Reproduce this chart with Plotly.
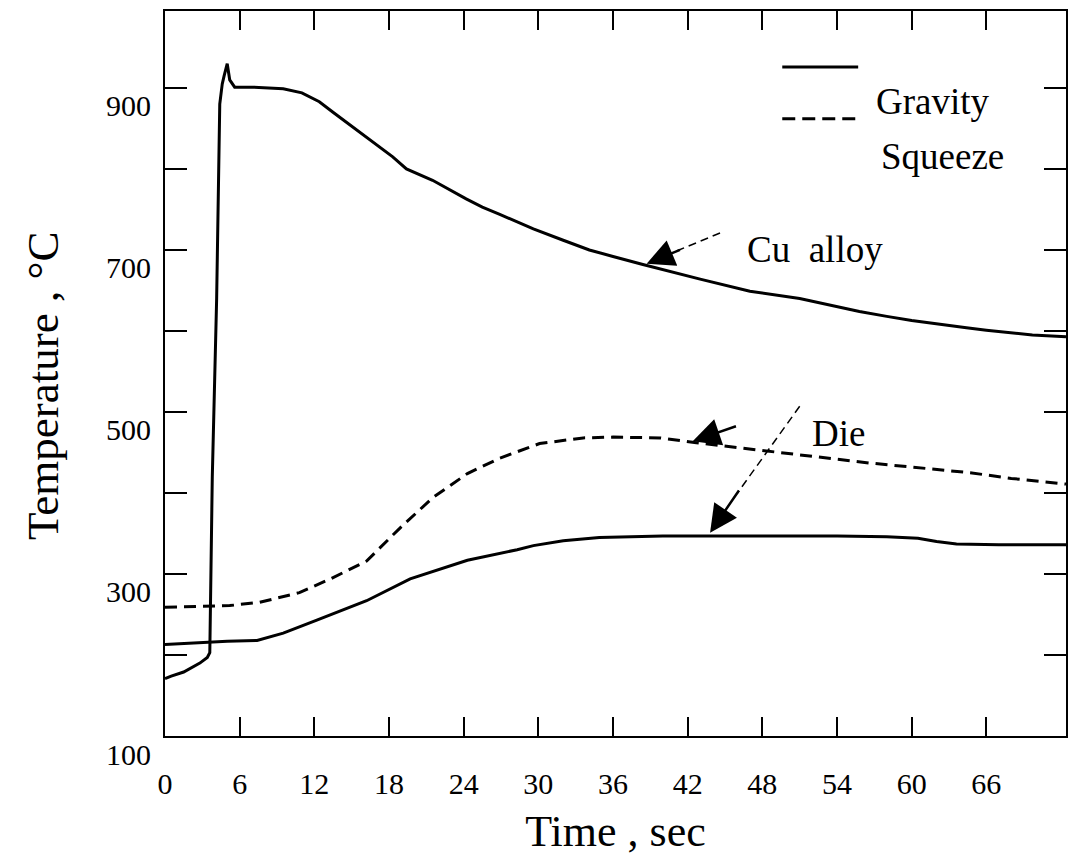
import plotly.graph_objects as go

# ---- data ----
cu_t = [0, 0.5, 1.5, 2.8, 3.4, 3.6, 3.8, 4.15, 4.4, 4.6, 4.75, 5.0, 5.2, 5.6, 7, 9.5, 11, 12.4,
        13.5, 14.9, 17.0, 18.3, 19.4, 21.5, 24.2, 25.5, 26.9, 29.6, 32, 34.1, 36, 38.4,
        43, 47, 51, 55.8, 58, 60, 64.4, 66, 69.7, 72.4]
cu_T = [171, 174, 179, 190, 197, 203, 420, 640, 880, 905, 915, 930, 910, 901, 901, 899, 894, 883,
        870, 854, 830, 815, 800, 786, 763, 753, 744, 726, 712, 700, 692, 682,
        664, 649, 640, 624, 618, 613, 604, 601, 595, 593]

sq_die_t = [0, 3, 5.2, 7.6, 10.8, 13.3, 16.2, 18.9, 21.5, 24.3, 26.9, 30.1, 33.6, 36, 39.8,
            42.7, 48.6, 52, 56.6, 60, 64.7, 68, 72.4]
sq_die_T = [259, 260, 261, 265, 277, 294, 316, 357, 394, 424, 443, 461, 468, 469, 468,
            462, 451, 445, 437, 432, 425, 418, 411]

gr_die_t = [0, 3.6, 5, 7.4, 9.5, 12.2, 16.2, 19.7, 24.3, 28.3, 29.6, 32, 34.9, 40, 48.6, 54,
            58, 60.5, 62, 63.6, 67, 72.4]
gr_die_T = [213, 216, 217, 218, 227, 243, 267, 294, 317, 330, 335, 341, 345, 347, 347, 347,
            346, 344, 340, 337, 336, 336]

x_ticks = [0, 6, 12, 18, 24, 30, 36, 42, 48, 54, 60, 66]
y_ticks = [100, 200, 300, 400, 500, 600, 700, 800, 900]
y_ticktext = ["100", "", "300", "", "500", "", "700", "", "900"]

FONT = "Liberation Serif"

fig = go.Figure()
fig.add_trace(go.Scatter(x=cu_t, y=cu_T, mode="lines", name="Cu alloy (Gravity)",
                         line=dict(color="black", width=3)))
fig.add_trace(go.Scatter(x=sq_die_t, y=sq_die_T, mode="lines", name="Die (Squeeze)",
                         line=dict(color="black", width=3, dash="12px,7px")))
fig.add_trace(go.Scatter(x=gr_die_t, y=gr_die_T, mode="lines", name="Die (Gravity)",
                         line=dict(color="black", width=3)))

# legend-like key drawn inside the plot
fig.add_shape(type="line", xref="x", yref="y", x0=49.6, x1=55.7, y0=926, y1=926,
              line=dict(color="black", width=3))
fig.add_shape(type="line", xref="x", yref="y", x0=49.6, x1=55.7, y0=862, y1=862,
              line=dict(color="black", width=3, dash="13px,7px"))
fig.add_annotation(x=61.7, y=883, xref="x", yref="y", text="Gravity", showarrow=False,
                   font=dict(family=FONT, size=37, color="black"))
fig.add_annotation(x=62.5, y=815, xref="x", yref="y", text="Squeeze", showarrow=False,
                   font=dict(family=FONT, size=37, color="black"))

# labels with arrows
fig.add_annotation(x=52.2, y=701, xref="x", yref="y", text="Cu  alloy", showarrow=False,
                   font=dict(family=FONT, size=37, color="black"))
fig.add_shape(type="line", xref="x", yref="y", x0=44.6, y0=721, x1=41.0, y1=698,
              line=dict(color="black", width=1.5, dash="8px,5px"))
fig.add_annotation(x=38.7, y=683, xref="x", yref="y", ax=41.5, ay=701, axref="x", ayref="y",
                   text="", showarrow=True, arrowhead=2, arrowsize=2.2, arrowwidth=2.5,
                   arrowcolor="black", standoff=0)

fig.add_annotation(x=54.1, y=473, xref="x", yref="y", text="Die", showarrow=False,
                   font=dict(family=FONT, size=37, color="black"))
fig.add_shape(type="line", xref="x", yref="y", x0=51.0, y0=507, x1=46.0, y1=400,
              line=dict(color="black", width=1.5, dash="8px,5px"))
fig.add_annotation(x=43.8, y=351, xref="x", yref="y", ax=46.2, ay=405, axref="x", ayref="y",
                   text="", showarrow=True, arrowhead=2, arrowsize=2.2, arrowwidth=2.5,
                   arrowcolor="black", standoff=0)
fig.add_annotation(x=42.4, y=464, xref="x", yref="y", ax=46.0, ay=483, axref="x", ayref="y",
                   text="", showarrow=True, arrowhead=2, arrowsize=2.2, arrowwidth=2.5,
                   arrowcolor="black", standoff=0)

# y-axis title placed as in the reference (slightly below the plot centre)
fig.add_annotation(xref="paper", x=0, xanchor="center", xshift=-122, yref="y", y=532,
                   text="Temperature , °C", textangle=-90, showarrow=False,
                   font=dict(family=FONT, size=45, color="black"))

axis_common = dict(showline=True, linecolor="black", linewidth=2, mirror="allticks",
                   ticks="inside", tickcolor="black", tickwidth=2, showgrid=False,
                   zeroline=False, tickfont=dict(family=FONT, size=30, color="black"))

fig.update_xaxes(range=[0, 72.4], tickvals=x_ticks, ticklen=19, ticklabelstandoff=20,
                 title=dict(text="Time , sec", font=dict(family=FONT, size=44, color="black"),
                            standoff=16),
                 **axis_common)
fig.update_yaxes(range=[100, 995], tickvals=y_ticks, ticktext=y_ticktext, ticklen=22,
                 ticklabelshift=18, ticklabelstandoff=6,
                 **axis_common)

fig.update_layout(width=1077, height=866, plot_bgcolor="white", paper_bgcolor="white",
                  showlegend=False, margin=dict(l=157, r=19, t=1, b=138),
                  font=dict(family=FONT, color="black"))

fig.write_html("out.html")
